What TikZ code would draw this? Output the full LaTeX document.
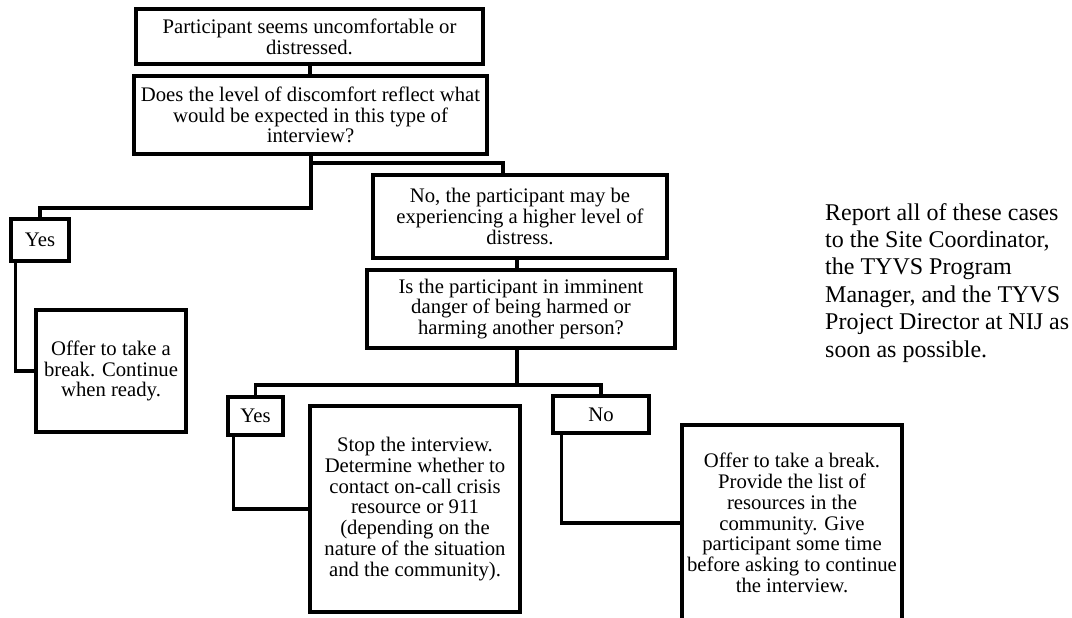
\documentclass[tikz,border=0pt]{standalone}
\usepackage{fontspec}
\setmainfont{Liberation Serif}
\begin{document}
\begin{tikzpicture}[x=1pt,y=-1pt,
  box/.style={draw,line width=3.4pt,inner sep=0pt,align=center,
    font=\fontsize{20.7}{20.8}\selectfont},
  conn/.style={line width=3.4pt}]
\clip (0,0) rectangle (1072,618);
\fill[white] (0,0) rectangle (1072,618);
\node[box,minimum width=347,minimum height=55] (b1) at (309.5,36.5)
  {Participant seems uncomfortable or\\distressed.};
\node[box,minimum width=353,minimum height=78] (b2) at (310.5,115)
  {Does the level of discomfort reflect what\\would be expected in this type of\\interview?};
\node[box,minimum width=58,minimum height=42] (yes1) at (40,240) {Yes};
\node[box,minimum width=150,minimum height=122] (off1) at (111,371)
  {Offer to take a\\break. Continue\\when ready.};
\node[box,minimum width=294,minimum height=83] (b3) at (520,216.5)
  {No, the participant may be\\experiencing a higher level of\\distress.};
\node[box,minimum width=308,minimum height=78] (b4) at (521,309)
  {Is the participant in imminent\\danger of being harmed or\\harming another person?};
\node[box,minimum width=55,minimum height=38] (yes2) at (255.5,416) {Yes};
\node[box,minimum width=210,minimum height=206] (stop) at (415,509)
  {Stop the interview.\\Determine whether to\\contact on-call crisis\\resource or 911\\(depending on the\\nature of the situation\\and the community).};
\node[box,minimum width=96,minimum height=37] (no) at (601,414.5) {No};
\node[box,minimum width=220,minimum height=196] (off2) at (792,523)
  {Offer to take a break.\\Provide the list of\\resources in the\\community. Give\\participant some time\\before asking to continue\\the interview.};
\node[align=left,anchor=north west,inner sep=0pt,
  font=\fontsize{24}{27.4}\selectfont] (note) at (825,203)
  {Report all of these cases\\to the Site Coordinator,\\the TYVS Program\\Manager, and the TYVS\\Project Director at NIJ as\\soon as possible.};
% connectors
\coordinate (j1) at (311,163);
\coordinate (j2) at (311,208);
\coordinate (b3in) at (503,175);
\coordinate (j3) at (517,385);
\draw[conn] ([xshift=0.5]b1.south) -- ([xshift=0.5]b1.south |- b2.north);
\draw[conn] ([xshift=0.5]b2.south) -- (j2) -| (yes1.north);
\draw[conn] (j1) -| (b3in);
\draw[conn] ([xshift=6]yes1.south west) |- (off1.west);
\draw[conn] ([xshift=-3]b3.south) -- ([xshift=-3]b3.south |- b4.north);
\draw[conn] ([xshift=-4]b4.south) -- (j3);
\draw[conn] (yes2.north) |- (j3) -| (no.north);
\draw[conn] ([xshift=7]yes2.south west) |- (stop.west);
\draw[conn] ([xshift=10]no.south west) |- (off2.west);
\end{tikzpicture}
\end{document}
